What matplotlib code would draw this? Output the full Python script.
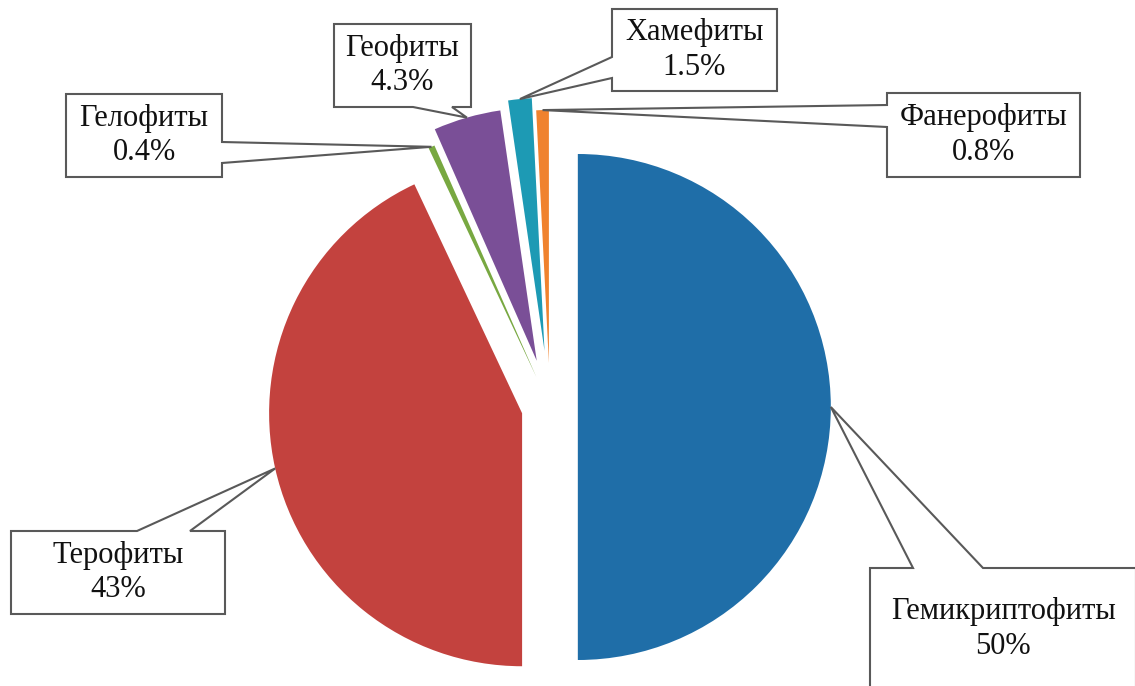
import numpy as np
import matplotlib
matplotlib.use("Agg")
import matplotlib.pyplot as plt
from matplotlib.patches import Polygon

# data
groups = ["Гемикриптофиты", "Терофиты", "Гелофиты", "Геофиты", "Хамефиты", "Фанерофиты"]
shares = [50, 43, 0.4, 4.3, 1.5, 0.8]
colors = ["#1F6EA8", "#C3423E", "#78A841", "#7A4F97", "#1D9AB4", "#F0822E"]

W, H = 1135, 686
R = 253
# explode as a fraction of the radius
explode = [0.11, 0.113, 0.13, 0.19, 0.223, 0.174]

# callout boxes in pixel coords (x0, y0, x1, y1), side of pointer, pointer base
boxes = [
    ((870, 568, 1136, 692), "top", (913, 983)),
    ((11, 531, 225, 614), "top", (137, 190)),
    ((66, 94, 222, 177), "right", (142, 163)),
    ((334, 24, 471, 107), "bottom", (413, 452)),
    ((612, 9, 777, 91), "left", (57, 78)),
    ((887, 93, 1080, 177), "left", (105, 127)),
]

plt.rcParams["font.family"] = ["Liberation Serif", "DejaVu Serif"]

fig = plt.figure(figsize=(W / 100, H / 100), dpi=100)
ax = fig.add_axes([0, 0, 1, 1])

wedges, _ = ax.pie(shares, explode=[e * R for e in explode], colors=colors,
                   startangle=90, counterclock=False, center=(550, H - 407),
                   radius=R, wedgeprops=dict(linewidth=0))
ax.set_xlim(0, W)
ax.set_ylim(0, H)
ax.set_aspect("equal")
ax.axis("off")


def callout(box, side, base, tip):
    x0, y0, x1, y1 = box
    b1, b2 = base
    pts = [(x0, y0)]
    if side == "top":
        pts += [(b1, y0), tip, (b2, y0)]
    pts.append((x1, y0))
    if side == "right":
        pts += [(x1, b1), tip, (x1, b2)]
    pts.append((x1, y1))
    if side == "bottom":
        pts += [(b2, y1), tip, (b1, y1)]
    pts.append((x0, y1))
    if side == "left":
        pts += [(x0, b2), tip, (x0, b1)]
    return [(x, H - y) for x, y in pts]


for w, name, v, (box, side, base) in zip(wedges, groups, shares, boxes):
    mid = np.deg2rad((w.theta1 + w.theta2) / 2)
    cx, cy = w.center
    tip = (cx + w.r * np.cos(mid), H - (cy + w.r * np.sin(mid)))
    poly = Polygon(callout(box, side, base, tip), closed=True, facecolor="white",
                   edgecolor="#595959", linewidth=1.5, zorder=3)
    ax.add_patch(poly)
    tx = (box[0] + box[2]) / 2
    ty = (box[1] + box[3]) / 2
    if name == "Гемикриптофиты":
        ty = 629
    ax.text(tx, H - ty, f"{name}\n{v:g}%", ha="center", va="center",
            fontsize=22, linespacing=1.25, color="#111111", zorder=4)

fig.savefig("out.png", dpi=100)
